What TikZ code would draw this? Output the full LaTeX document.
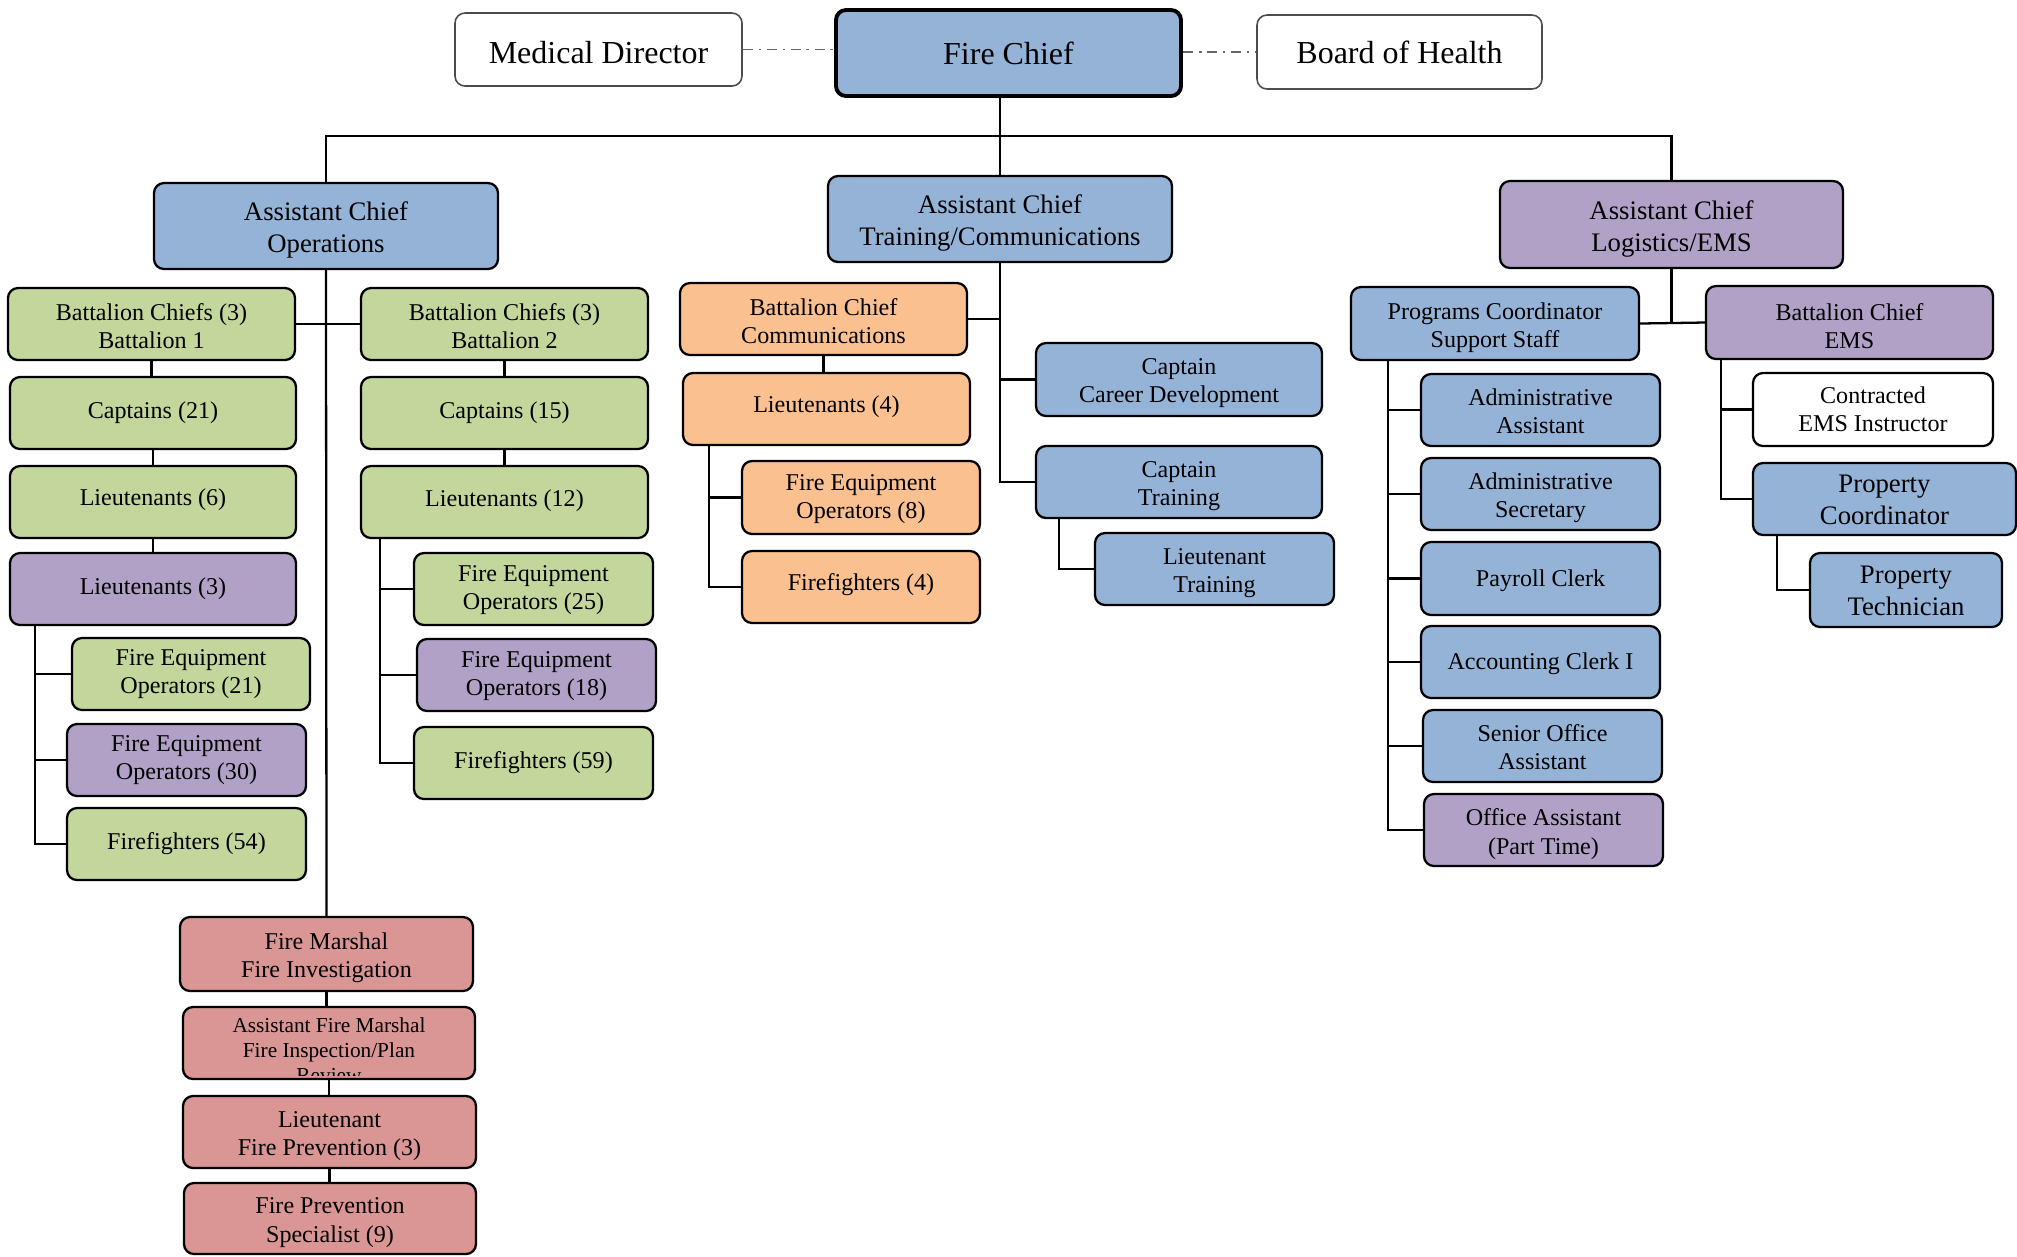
\documentclass[tikz,border=0pt]{standalone}
\usepackage{fontspec}
\setmainfont{Liberation Serif}
\definecolor{cblue}{HTML}{95B3D7}
\definecolor{cgreen}{HTML}{C3D69B}
\definecolor{cpurple}{HTML}{B2A1C7}
\definecolor{corange}{HTML}{FAC090}
\definecolor{cred}{HTML}{D99694}
\newcommand\fsz[2]{\fontsize{#1}{#2}\selectfont}
% box with text shifted down by #8 pixels
\newcommand\mkbox[8]{%
  \node[#6, minimum width={(#4-#2)*0.01cm}, minimum height={(#5-#3)*0.01cm}] (#1) at ({(#2+#4)/2},{(#3+#5)/2}) {};
  \node[#6, draw=none, fill=none, minimum width=0pt, minimum height=0pt] (#1-t) at ([yshift={-(#8)*0.01cm}]#1.center) {#7};}
\newcommand\bx[7]{\mkbox{#1}{#2}{#3}{#4}{#5}{#6}{#7}{0}}
\newcommand\by[7]{\mkbox{#1}{#2}{#3}{#4}{#5}{#6}{#7}{4}}
\tikzset{
  box/.style={draw=black, line width=0.65pt, rounded corners=0.1cm, align=center, inner sep=0pt, font=\fsz{6.85}{8}},
  bl/.style={box, fill=cblue},
  gr/.style={box, fill=cgreen},
  pu/.style={box, fill=cpurple},
  orn/.style={box, fill=corange},
  rd/.style={box, fill=cred},
  wh/.style={box, fill=white},
  big/.style={font=\fsz{7.6}{9.1}},
  topbox/.style={font=\fsz{9.1}{11}},
  link/.style={line width=0.65pt},
  bus/.style={line width=0.75pt},
  dd/.style={draw=black!60, line width=0.5pt, dash pattern=on 3pt off 1.5pt on 0.8pt off 1.5pt}
}
\begin{document}
\begin{tikzpicture}[x=0.01cm, y=-0.01cm]
\useasboundingbox (0,0) rectangle (2017,1256);
% top row
\mkbox{md}{455}{13}{742}{86}{wh, topbox, draw=black!70, line width=0.45pt}{Medical Director}{3}
\bx{fc}{836}{10}{1181}{96}{bl, topbox, line width=1.1pt}{Fire Chief}
\bx{boh}{1257}{15}{1542}{89}{wh, topbox, draw=black!70, line width=0.45pt}{Board of Health}
% assistant chiefs
\by{acO}{154}{183}{498}{269}{bl, big}{Assistant Chief\\Operations}
\by{acT}{828}{176}{1172}{262}{bl, big}{Assistant Chief\\Training/Communications}
\by{acL}{1500}{181}{1843}{268}{pu, big}{Assistant Chief\\Logistics/EMS}
% operations - battalion 1
\mkbox{bc1}{8}{288}{295}{360}{gr}{Battalion Chiefs (3)\\Battalion 1}{2}
\bx{cap21}{10}{377}{296}{449}{gr}{Captains (21)}
\mkbox{l6}{10}{466}{296}{538}{gr}{Lieutenants (6)}{-2}
\bx{l3}{10}{553}{296}{625}{pu}{Lieutenants (3)}
\bx{feo21}{72}{638}{310}{710}{gr}{Fire Equipment\\Operators (21)}
\bx{feo30}{67}{724}{306}{796}{pu}{Fire Equipment\\Operators (30)}
\bx{ff54}{67}{808}{306}{880}{gr}{Firefighters (54)}
% operations - battalion 2
\mkbox{bc2}{361}{288}{648}{360}{gr}{Battalion Chiefs (3)\\Battalion 2}{2}
\bx{cap15}{361}{377}{648}{449}{gr}{Captains (15)}
\mkbox{l12}{361}{466}{648}{538}{gr}{Lieutenants (12)}{-1}
\mkbox{feo25}{414}{553}{653}{625}{gr}{Fire Equipment\\Operators (25)}{1}
\mkbox{feo18}{417}{639}{656}{711}{pu}{Fire Equipment\\Operators (18)}{1}
\bx{ff59}{414}{727}{653}{799}{gr}{Firefighters (59)}
% fire marshal chain
\by{fm}{180}{917}{473}{991}{rd}{Fire Marshal\\Fire Investigation}
\bx{aafm}{183}{1007}{475}{1079}{rd}{}
\begin{scope}
\clip (186,1010) rectangle (472,1075);
\node[align=center, inner sep=0pt, anchor=north, font=\fsz{6.06}{7.1}] (aafmtext) at (329,1017) {Assistant Fire Marshal\\Fire Inspection/Plan\\Review};
\end{scope}
\by{ltfp}{183}{1096}{476}{1168}{rd}{Lieutenant\\Fire Prevention (3)}
\by{fps}{184}{1183}{476}{1254}{rd}{Fire Prevention\\Specialist (9)}
% training / communications
\mkbox{bcc}{680}{283}{967}{355}{orn}{Battalion Chief\\Communications}{2}
\mkbox{l4}{683}{373}{970}{445}{orn}{Lieutenants (4)}{-2}
\mkbox{feo8}{742}{461}{980}{534}{orn}{Fire Equipment\\Operators (8)}{2}
\mkbox{ff4}{742}{551}{980}{623}{orn}{Firefighters (4)}{-2}
\by{ccd}{1036}{343}{1322}{416}{bl}{Captain\\Career Development}
\by{ctr}{1036}{446}{1322}{518}{bl}{Captain\\Training}
\by{ltr}{1095}{533}{1334}{605}{bl}{Lieutenant\\Training}
% logistics / EMS
\by{pc}{1351}{287}{1639}{360}{bl}{Programs Coordinator\\Support Staff}
\mkbox{aa}{1421}{374}{1660}{446}{bl}{Administrative\\Assistant}{1}
\by{as}{1421}{458}{1660}{530}{bl}{Administrative\\Secretary}
\mkbox{prc}{1421}{542}{1660}{615}{bl}{Payroll Clerk}{2}
\mkbox{acc}{1421}{626}{1660}{698}{bl}{Accounting Clerk I}{2}
\mkbox{soa}{1423}{710}{1662}{782}{bl}{Senior Office\\Assistant}{1}
\by{oa}{1424}{794}{1663}{866}{pu}{Office Assistant\\(Part Time)}
\by{bce}{1706}{286}{1993}{359}{pu}{Battalion Chief\\EMS}
\bx{cei}{1753}{373}{1993}{446}{wh}{Contracted\\EMS Instructor}
\mkbox{pco}{1753}{463}{2016}{535}{bl, big}{Property\\Coordinator}{1}
\mkbox{pt}{1810}{553}{2002}{627}{bl, big}{Property\\Technician}{1}
% coordinates for brackets and bus
\coordinate (busy) at (0,136);
\coordinate (b1) at (35,625);
\coordinate (b2) at (380,538);
\coordinate (tb) at (709,445);
\coordinate (tc) at (1059,518);
\coordinate (pb) at (1388,360);
\coordinate (eb) at (1721,359);
\coordinate (qb) at (1777,535);
% top dash-dot links
\draw[dd] (md.east) -- (fc.west |- md.east);
\draw[dd] (fc.east |- boh.west) -- (boh.west);
% chief to assistant chiefs
\draw[link] (acT.north |- fc.south) -- (acT.north);
\draw[bus] (acO.north) -- (acO.north |- busy) -- (acL.north |- busy) -- (acL.north);
% operations
\draw[link] (acO.south) -- (fm.north);
\draw[link] (bc1.east) -- (bc2.west);
\draw[link] (bc1.south) -- (bc1.south |- cap21.north);
\draw[link] (cap21.south) -- (cap21.south |- l6.north);
\draw[link] (l6.south) -- (l6.south |- l3.north);
\draw[link] (b1) |- (ff54.west);
\draw[link] (feo21.west) -- (feo21.west -| b1);
\draw[link] (feo30.west) -- (feo30.west -| b1);
\draw[link] (bc2.south) -- (bc2.south |- cap15.north);
\draw[link] (cap15.south) -- (cap15.south |- l12.north);
\draw[link] (b2) |- (ff59.west);
\draw[link] (feo25.west) -- (feo25.west -| b2);
\draw[link] (feo18.west) -- (feo18.west -| b2);
\draw[link] (fm.south) -- (fm.south |- aafm.north);
\draw[link] (aafm.south) -- (aafm.south |- ltfp.north);
\draw[link] (ltfp.south) -- (ltfp.south |- fps.north);
% training
\draw[link] (acT.south) |- (ctr.west);
\draw[link] (ccd.west) -- (ccd.west -| acT.south);
\draw[link] (bcc.east) -- (bcc.east -| acT.south);
\draw[link] (bcc.south) -- (bcc.south |- l4.north);
\draw[link] (tb) |- (ff4.west);
\draw[link] (feo8.west) -- (feo8.west -| tb);
\draw[link] (tc) |- (ltr.west);
% logistics
\draw[link] (acL.south) -- (acL.south |- pc.east);
\draw[link] (pc.east) -- (bce.west);
\draw[link] (pb) |- (oa.west);
\draw[link] (aa.west) -- (aa.west -| pb);
\draw[link] (as.west) -- (as.west -| pb);
\draw[link] (prc.west) -- (prc.west -| pb);
\draw[link] (acc.west) -- (acc.west -| pb);
\draw[link] (soa.west) -- (soa.west -| pb);
\draw[link] (eb) |- (pco.west);
\draw[link] (cei.west) -- (cei.west -| eb);
\draw[link] (qb) |- (pt.west);
\end{tikzpicture}
\end{document}
